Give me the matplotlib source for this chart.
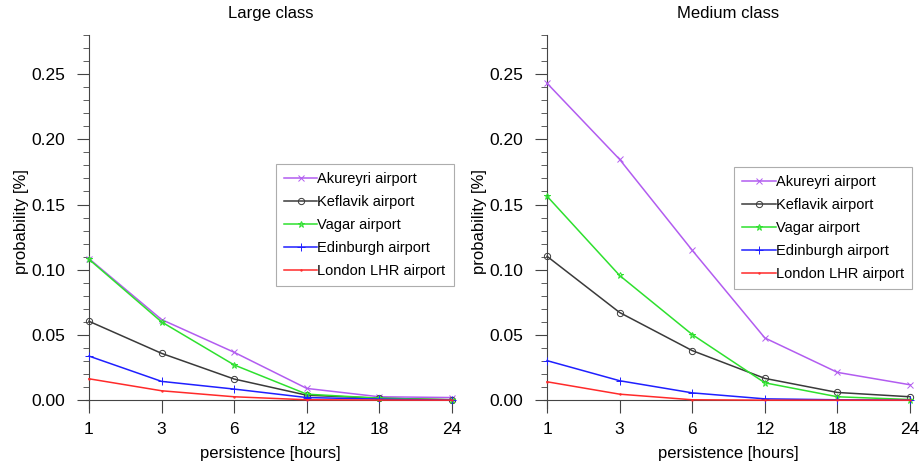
import numpy as np
import matplotlib
matplotlib.use('Agg')
import matplotlib.pyplot as plt
from matplotlib.ticker import MultipleLocator

plt.rcParams['font.family'] = ['Liberation Sans', 'DejaVu Sans']

# persistence categories (plotted at equal spacing)
hours = ['1', '3', '6', '12', '18', '24']
airports = ['Akureyri airport', 'Keflavik airport', 'Vagar airport',
            'Edinburgh airport', 'London LHR airport']

# Large class
large_akureyri = [0.1085, 0.0618, 0.0367, 0.0090, 0.0026, 0.0020]
large_keflavik = [0.0605, 0.0359, 0.0162, 0.0038, 0.0015, 0.0003]
large_vagar = [0.1080, 0.0600, 0.0270, 0.0046, 0.0015, 0.0003]
large_edinburgh = [0.0338, 0.0144, 0.0085, 0.0020, 0.0008, 0.0000]
large_london = [0.0164, 0.0072, 0.0026, 0.0003, 0.0001, 0.0000]

# Medium class
medium_akureyri = [0.2430, 0.1846, 0.1149, 0.0477, 0.0213, 0.0118]
medium_keflavik = [0.1103, 0.0672, 0.0380, 0.0167, 0.0059, 0.0026]
medium_vagar = [0.1564, 0.0956, 0.0503, 0.0133, 0.0026, 0.0005]
medium_edinburgh = [0.0303, 0.0149, 0.0056, 0.0010, 0.0003, 0.0000]
medium_london = [0.0141, 0.0046, 0.0003, 0.0000, 0.0000, 0.0000]

colors = ['#b25cf0', '#3a3a3a', '#2ee02e', '#1f1fff', '#ff2a2a']
markers = ['x', 'o', '*', '+', '.']
msizes = [4.5, 4.5, 4.5, 6, 2]

fig = plt.figure(figsize=(9.2, 4.62), dpi=100)
ax_l = fig.add_axes([0.0967, 0.1169, 0.3946, 0.8074])
ax_r = fig.add_axes([0.5946, 0.1169, 0.3946, 0.8074])

panels = [
    (ax_l, 'Large class', [large_akureyri, large_keflavik, large_vagar, large_edinburgh, large_london], 0.654),
    (ax_r, 'Medium class', [medium_akureyri, medium_keflavik, medium_vagar, medium_edinburgh, medium_london], 0.646),
]

x = np.arange(len(hours))
for ax, title, series, leg_top in panels:
    for vals, name, c, m, ms in zip(series, airports, colors, markers, msizes):
        ax.plot(x, vals, color=c, marker=m, markersize=ms, markerfacecolor='none',
                markeredgecolor=c, markeredgewidth=0.7, linewidth=1.1, label=name,
                clip_on=False, zorder=3)
    ax.set_xlim(0, len(hours) - 1)
    ax.set_ylim(-0.006, 0.28)
    ax.set_xticks(x)
    ax.set_xticklabels(hours)
    ax.yaxis.set_major_locator(MultipleLocator(0.05))
    ax.yaxis.set_minor_locator(MultipleLocator(0.01))
    ax.yaxis.set_major_formatter(matplotlib.ticker.FormatStrFormatter('%.2f'))
    for s in ['top', 'right']:
        ax.spines[s].set_visible(False)
    ax.spines['bottom'].set_position(('data', 0))
    ax.spines['bottom'].set_bounds(-0.04, len(hours) - 1)
    ax.spines['bottom'].set_color('#444444')
    ax.spines['left'].set_color('#444444')
    ax.tick_params(axis='y', which='major', direction='out', length=9, width=0.8,
                   color='#444444', labelsize=12.5, pad=8)
    ax.tick_params(axis='y', which='minor', direction='out', length=4, width=0.6,
                   color='#444444')
    ax.tick_params(axis='x', direction='out', length=9, width=0.8, color='#444444',
                   labelsize=12.5, pad=7)
    ax.set_title(title, fontsize=12, pad=12)
    ax.set_xlabel('persistence [hours]', fontsize=12, labelpad=6)
    ax.set_ylabel('probability [%]', fontsize=12, labelpad=2)
    leg = ax.legend(loc='upper left', bbox_to_anchor=(0.515, leg_top), fontsize=10.5,
                    frameon=True, fancybox=False, handlelength=2.3, handletextpad=0.0,
                    labelspacing=0.62, borderpad=0.55, borderaxespad=0)
    leg.get_frame().set_edgecolor('#999999')
    leg.get_frame().set_linewidth(0.8)

fig.savefig('out.png', dpi=100)
